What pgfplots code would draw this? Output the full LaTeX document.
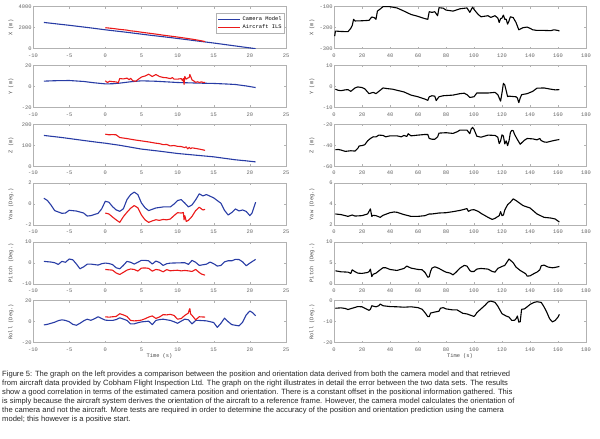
\documentclass[border=0pt]{standalone}
\usepackage{fontspec}
\setmainfont{Liberation Sans}
\setmonofont{Liberation Mono}
\usepackage{pgfplots}
\pgfplotsset{compat=1.18}
\definecolor{mblue}{RGB}{40,60,165}
\definecolor{mred}{RGB}{235,25,25}
\newcommand{\tkf}{\ttfamily\fontsize{5.4}{6}\selectfont}
\pgfplotsset{
  mat/.style={scale only axis, height=42pt,
    axis line style={gray!60}, tick style={gray!60, line width=0.4pt},
    major tick length=2pt, tick align=inside,
    every tick label/.append style={font=\tkf, text=black!60},
    xticklabel style={yshift=-1.5pt},
    yticklabel style={inner sep=1.2pt},
    /pgf/number format/assume math mode=true,
    /pgf/number format/1000 sep={},
    scaled ticks=false,
    every axis y label/.style={at={(axis description cs:-0.087,0.5)}, rotate=90, anchor=center, font=\tkf, text=black!70},
    every axis x label/.style={at={(axis description cs:0.5,-0.33)}, anchor=center, font=\tkf, text=black!70},
    clip=true},
  L/.style={mat, width=253pt, xmin=-10, xmax=25, xtick={-10,-5,...,25}},
  R/.style={mat, width=252pt, xmin=0, xmax=180, xtick={0,20,...,180}},
  bl/.style={color=mblue, line width=1.1pt, line join=round},
  rd/.style={color=mred, line width=1.1pt, line join=round},
  bk/.style={color=black, line width=1.1pt, line join=round},
}
\begin{document}
\begin{tikzpicture}
\useasboundingbox (0,0) rectangle (600pt,439pt);
% ---------------- LEFT COLUMN ----------------
\begin{axis}[L, at={(33pt,432.3pt)}, anchor=north west, ymin=0, ymax=4000, ytick={0,2000,4000}, ylabel={X (m)},
  legend style={at={(axis description cs:1,1)}, anchor=north east, xshift=-1.3pt, yshift=-6.6pt, draw=gray!60, font=\tkf, inner sep=1pt, row sep=-1.5pt, cells={anchor=west}},
  legend image code/.code={\draw[#1] (0pt,0pt) -- (22pt,0pt);}]
\addplot[bl] coordinates {(-8.5,2500) (-5,2230) (-2,1980) (0,1800) (3,1560) (6,1300) (9,1060) (12,800) (15,540) (18,260) (20.8,0)};
\addlegendentry{Camera Model}
\addplot[rd] coordinates {(0,2000) (1,1930) (2,1840) (3,1770) (3.5,1700) (4,1670) (5,1570) (6,1480) (7,1390) (8,1290) (9,1200) (10,1110) (11,1010) (12,910) (13,790) (13.8,680)};
\addlegendentry{Aircraft ILS}
\end{axis}

\begin{axis}[L, at={(33pt,373.5pt)}, anchor=north west, ymin=-20, ymax=20, ytick={-20,0,20}, ylabel={Y (m)}]
\addplot[bl] coordinates {(-8.5,5.1) (-7,5.5) (-5,5.7) (-3,4.8) (-1.5,3.5) (0,2.5) (1,2.6) (2,3.2) (3.5,4.5) (5,5.4) (7,5) (10,3.8) (13,3.2) (15,2.9) (17,2.3) (18,1.9) (19.5,0.5) (20.8,-1)};
\addplot[rd] coordinates {(0,5.4) (0.3,3.8) (0.6,5) (1,4.6) (1.5,4.4) (1.8,3.5) (2,7.6) (2.5,7.2) (3,8) (3.3,6.5) (3.5,7.8) (3.8,5.5) (4.2,5) (4.5,6.5) (5,9) (5.5,10) (6,11.7) (6.5,9.5) (7,11.4) (7.5,9.5) (8,8.6) (8.5,8.3) (9,7.5) (9.3,8.5) (9.5,7) (10,7) (10.5,7.5) (10.7,5.5) (10.8,7.8) (10.9,2) (11,9.5) (11.2,7) (11.4,8) (11.6,8.5) (11.7,11.4) (11.9,8) (12,6.3) (12.3,5) (12.5,4) (12.8,4.5) (13,3.8) (13.3,4.4) (13.5,4) (13.8,3.9)};
\end{axis}

\begin{axis}[L, at={(33pt,314.7pt)}, anchor=north west, ymin=0, ymax=200, ytick={0,100,200}, ylabel={Z (m)}]
\addplot[bl] coordinates {(-8.5,147) (-6,137) (-3,123) (-1,114) (0,110) (2,100) (5,82) (7.5,72) (10,61) (12.5,53) (15,45) (16.5,38) (18,31) (19.5,26) (20.8,21)};
\addplot[rd] coordinates {(0,153) (0.5,150) (1,151) (1.5,150) (2,137) (3,132) (4,126) (5,121) (6,116) (6.5,113) (7,110) (7.5,108) (8,103) (8.5,104) (9,97) (9.5,99) (10,95) (10.5,94) (11,89) (11.2,93) (11.4,83) (11.6,90) (11.8,84) (12,88) (12.5,85) (13,82) (13.8,76)};
\end{axis}

\begin{axis}[L, at={(33pt,255.9pt)}, anchor=north west, ymin=-2, ymax=2, ytick={-2,0,2}, ylabel={Yaw (Deg.)}]
\addplot[bl] coordinates {(-8.5,0.56) (-8,0.34) (-7.5,-0.1) (-7,-0.62) (-6,-0.88) (-5.5,-0.85) (-5,-0.59) (-4,-0.66) (-3,-0.85) (-2.5,-1.14) (-2,-1.1) (-1,-0.88) (-0.5,-0.46) (0,0.27) (0.5,0.18) (1,-0.24) (1.5,-0.55) (2,-0.69) (2.5,-0.45) (3,0.43) (3.5,0.9) (4,1.14) (4.5,0.91) (5,0.11) (5.5,-0.35) (6,-0.62) (7,-0.37) (8,-0.27) (9,-0.27) (9.5,0) (10,0.34) (10.5,0.43) (11,0.1) (11.5,-0.27) (12,-0.08) (12.5,0.4) (13,0.98) (13.5,0.78) (14,0.91) (15,0.59) (16,0.08) (16.5,-0.6) (17,-1.04) (17.5,-0.8) (18,-0.46) (18.5,-0.65) (19,-0.56) (19.5,-0.7) (20,-1.1) (20.3,-0.85) (20.8,0.18)};
\addplot[rd] coordinates {(0,-0.85) (0.5,-0.94) (1,-1.23) (1.5,-1.5) (2,-1.74) (2.5,-1.2) (3,-0.78) (3.5,-0.4) (4,-0.14) (4.5,-0.35) (5,-1.04) (5.5,-1.5) (6,-1.74) (6.5,-1.6) (7,-1.49) (7.5,-1.55) (8,-1.46) (8.5,-1.5) (9,-1.42) (9.5,-1.1) (10,-0.82) (10.5,-0.85) (10.8,-0.8) (10.9,-1.5) (11,-1.1) (11.2,-1.65) (11.5,-1.55) (12,-1.17) (12.5,-0.62) (13,-0.3) (13.5,-0.56) (13.8,-0.5)};
\end{axis}

\begin{axis}[L, at={(33pt,197.1pt)}, anchor=north west, ymin=-10, ymax=10, ytick={-10,0,10}, ylabel={Pitch (Deg.)}]
\addplot[bl] coordinates {(-8.5,0.72) (-7.5,0.4) (-7,0.08) (-6.5,-0.72) (-6,0.72) (-5.5,0.3) (-5,1.84) (-4.5,1.5) (-4,-0.5) (-3.5,-2.8) (-3,-1.9) (-2.5,-0.6) (-2,-0.56) (-1.5,-0.8) (-1,-1.04) (-0.5,-0.4) (0,-0.08) (0.5,-0.3) (1,-0.8) (1.5,-2.32) (2,-2.8) (2.5,-1.2) (3,0.72) (3.5,0.3) (4,-0.56) (4.5,0.3) (5,1.2) (5.5,1.2) (6,1.0) (6.5,-0.56) (7,0.88) (7.5,0.2) (8,-1.2) (8.5,-0.4) (9,-0.1) (10,0) (11,0.1) (11.5,-0.72) (12,1.2) (12.5,0.3) (13,-1.2) (13.5,-0.9) (14,-0.6) (14.5,0.4) (15,-0.4) (15.5,-1.52) (16,-1.2) (16.5,0.5) (17,1.04) (17.5,1.0) (18,1.68) (18.5,1.6) (19,0.5) (19.5,-1.36) (20,-0.1) (20.8,1.68)};
\addplot[rd] coordinates {(0,-3.12) (0.5,-3.3) (1,-3.44) (1.5,-4.8) (2,-5.52) (2.5,-4.5) (3,-3.44) (3.5,-2.9) (4,-3.12) (4.5,-3.9) (5,-2.48) (5.5,-2.4) (6,-2.6) (6.5,-3.92) (7,-3.12) (7.5,-3.4) (8,-4.24) (8.5,-3.2) (9,-3.76) (9.5,-3.6) (10,-3.5) (10.5,-3.8) (11,-3.6) (11.5,-3.8) (12,-4.08) (12.5,-3.12) (13,-4.56) (13.3,-5.3) (13.8,-5.84)};
\end{axis}

\begin{axis}[L, at={(33pt,138.3pt)}, anchor=north west, ymin=-20, ymax=20, ytick={-20,0,20}, ylabel={Roll (Deg.)}, xlabel={Time (s)}]
\addplot[bl] coordinates {(-8.5,-3.1) (-8,-2.5) (-7,-0.5) (-6.5,1.0) (-6,1.8) (-5.5,1.2) (-5,0) (-4.5,-2.5) (-4,-3.4) (-3.5,-1.5) (-3,0.8) (-2.5,2.4) (-2,1.3) (-1.5,2.8) (-1,4.7) (-0.5,3.0) (0,1.5) (0.5,1.2) (1,1.2) (1.5,2.0) (2,3.7) (2.5,2.5) (3,1.2) (3.5,-2.1) (4,-2.1) (4.5,-1.0) (5,-0.2) (6,0.5) (6.5,-2.8) (7,1.2) (7.5,2.0) (8,2.4) (9,1.2) (9.5,0) (10,-1.5) (10.5,0.5) (11,2.4) (11.5,1.8) (12,-2.1) (12.5,1.2) (13,1.2) (14,0.8) (15,-0.8) (15.5,-5.4) (16,-1.5) (16.5,3.4) (17,0) (17.5,-2.8) (18,-3.4) (18.5,-4.0) (19,-0.5) (19.5,6.5) (20,10.2) (20.4,8.5) (20.8,5.7)};
\addplot[rd] coordinates {(0,4.7) (0.5,4.3) (1,4.7) (1.5,5.0) (2,7.6) (2.5,6.5) (3,5.0) (3.5,1.2) (4,0.8) (4.5,1.0) (5,1.5) (5.5,2.8) (6,4.4) (6.5,5.5) (7,3.1) (7.5,4.5) (8,6.7) (8.5,6.5) (9,7.0) (9.5,6.0) (10,2.4) (10.5,3.0) (11,6.0) (11.5,8.3) (11.6,11) (11.7,12.5) (11.8,7.5) (12,6.0) (12.5,1.8) (13,4.7) (13.5,4.5) (13.8,4.4)};
\end{axis}

% ---------------- RIGHT COLUMN ----------------
\begin{axis}[R, at={(334pt,432.3pt)}, anchor=north west, ymin=-300, ymax=-100, ytick={-300,-200,-100}, ylabel={X (m)}]
\addplot[bk] coordinates {(0.5,-240) (1,-216) (5,-218) (10,-219) (12,-203) (13,-190) (14,-160) (15,-168) (20,-167) (25,-165) (27,-149) (29,-153) (30,-160) (31,-121) (33,-111) (35,-100) (40,-100) (45,-106) (50,-121) (55,-137) (60,-146) (65,-157) (67,-160) (68,-124) (70,-127) (72,-124) (74,-143) (75,-105) (78,-107) (80,-116) (85,-121) (90,-110) (95,-106) (97,-127) (99,-102) (100,-113) (103,-137) (105,-148) (110,-143) (112,-151) (115,-143) (117,-154) (118,-175) (119,-157) (120,-154) (121,-140) (122,-160) (123,-160) (124,-183) (125,-168) (126,-148) (128,-152) (130,-175) (132,-210) (135,-200) (138,-197) (140,-203) (142,-210) (145,-213) (150,-213) (155,-214) (157,-210) (160,-213) (161,-216)};
\end{axis}

\begin{axis}[R, at={(334pt,373.5pt)}, anchor=north west, ymin=-10, ymax=10, ytick={-10,0,10}, ylabel={Y (m)}]
\addplot[bk] coordinates {(1,-1.3) (3,-1.8) (5,-2) (8,-1.6) (10,-1.5) (12,-2.3) (15,-0.7) (17,-0.2) (20,-0.5) (22,-1.1) (25,-3.4) (28,-2.8) (30,-3.4) (33,-1.8) (35,-0.7) (38,-1.0) (42,-1.3) (45,-1.8) (50,-2.6) (55,-4.1) (60,-4.9) (65,-6) (67,-6.6) (68,-4.9) (70,-4.4) (72,-4.6) (73,-6.7) (75,-4.9) (78,-4.4) (85,-4.1) (90,-3.4) (93,-3.2) (95,-3.9) (97,-5.2) (100,-4.9) (102,-3.1) (110,-3.1) (115,-2.8) (117,-3.9) (119,-7) (120,-3) (121,1.5) (122,0.7) (123,-2) (124,-4.8) (125,-4.6) (130,-4.9) (131,-5.5) (132,-7.7) (133,-5.5) (134,-3.9) (138,-3.4) (142,-2.3) (145,-0.8) (150,-0.7) (155,-1.3) (158,-1.6) (161,-1.5)};
\end{axis}

\begin{axis}[R, at={(334pt,314.7pt)}, anchor=north west, ymin=-60, ymax=-20, ytick={-60,-40,-20}, ylabel={Z (m)}]
\addplot[bk] coordinates {(1,-44.2) (3,-44) (5,-44.5) (8,-45.8) (12,-45.2) (15,-45.5) (17,-42.9) (18,-40.6) (20,-40.3) (22,-39.4) (24,-35.8) (26,-33.5) (28,-31.9) (30,-32) (32,-30.3) (35,-30.6) (37,-31.9) (40,-31) (45,-31) (48,-31.9) (50,-30.6) (52,-31.6) (53,-29) (55,-31) (60,-30.3) (65,-29.7) (67,-29.7) (68,-33.5) (70,-34.2) (72,-34.2) (74,-32) (75,-28.4) (80,-28) (85,-28.7) (88,-27.1) (90,-25.5) (95,-25.5) (97,-29) (98,-24.5) (99,-22.9) (100,-24.8) (102,-31.3) (105,-32.3) (110,-30.3) (115,-30.6) (117,-32.3) (118,-38.4) (119,-35.8) (120,-30) (121,-31.3) (122,-38.7) (123,-35.8) (124,-40.3) (125,-35.8) (126,-27.8) (127,-25.8) (128,-26.1) (129,-29.7) (131,-34.5) (133,-39) (134,-37.7) (136,-35.2) (138,-33.5) (142,-33.9) (145,-34.8) (147,-33.5) (148,-35.5) (150,-36.8) (152,-37.1) (155,-36.1) (158,-35.2) (161,-34.5)};
\end{axis}

\begin{axis}[R, at={(334pt,255.9pt)}, anchor=north west, ymin=2, ymax=6, ytick={2,4,6}, ylabel={Yaw (Deg.)}]
\addplot[bk] coordinates {(1,3.06) (5,3.0) (8,2.9) (10,2.83) (13,2.96) (15,2.86) (20,2.9) (24,3.06) (26,3.54) (27,2.83) (28,2.93) (30,2.9) (33,2.74) (35,2.93) (40,3.18) (43,3.25) (45,3.22) (50,3.0) (55,2.83) (60,2.83) (65,2.9) (68,3.06) (70,3.06) (75,3.15) (80,3.18) (85,3.28) (90,3.4) (95,3.57) (96,3.31) (98,3.44) (100,3.47) (103,3.31) (105,3.12) (110,2.74) (113,2.54) (115,2.64) (118,2.9) (119,3.28) (120,2.9) (121,2.96) (122,3.44) (124,3.95) (126,4.18) (128,4.5) (130,4.34) (135,3.86) (140,3.63) (145,3.06) (150,2.74) (155,2.67) (158,2.58) (161,2.29)};
\end{axis}

\begin{axis}[R, at={(334pt,197.1pt)}, anchor=north west, ymin=0, ymax=10, ytick={0,5,10}, ylabel={Pitch (Deg.)}]
\addplot[bk] coordinates {(1,3.12) (5,2.88) (10,2.8) (12,2.48) (13,3.36) (15,2.9) (17,2.56) (20,2.5) (24,2.72) (25,2.9) (26,3.52) (27,1.76) (28,2.3) (30,2.56) (33,3.36) (35,3.84) (37,3.84) (40,3.44) (45,3.2) (50,3.68) (52,4.24) (55,3.76) (60,3.44) (63,3.36) (65,2.72) (67,1.6) (68,1.68) (69,3.0) (70,3.76) (72,4.08) (75,3.68) (78,3.12) (80,2.8) (83,2.56) (85,2.16) (87,2.72) (90,3.76) (93,4.4) (95,4.24) (97,3.2) (98,2.96) (100,2.96) (102,3.52) (105,3.68) (110,3.52) (113,2.96) (115,2.8) (117,3.68) (120,4.16) (122,4.4) (125,5.92) (128,5.04) (130,4.0) (133,3.2) (135,2.8) (137,2.4) (138,1.84) (140,1.92) (143,2.48) (145,2.8) (147,3.36) (148,4.32) (150,4.48) (153,4.0) (156,3.84) (158,3.92) (161,4.16)};
\end{axis}

\begin{axis}[R, at={(334pt,138.3pt)}, anchor=north west, ymin=-20, ymax=0, ytick={-20,-10,0}, ylabel={Roll (Deg.)}, xlabel={Time (s)}]
\addplot[bk] coordinates {(1,-3.6) (5,-3.4) (8,-3.7) (10,-4.2) (13,-3.6) (17,-2.8) (20,-2.9) (22,-3.6) (25,-4.6) (26,-4.1) (27,-2.4) (28,-2.6) (30,-2.9) (32,-2.4) (33,-1.6) (35,-2.4) (40,-2.8) (45,-2.9) (50,-3.1) (55,-2.9) (60,-3.3) (63,-4.1) (65,-5.7) (67,-7.6) (68,-7.6) (69,-5.9) (72,-5.4) (75,-5.0) (76,-3.6) (78,-3.3) (80,-3.9) (85,-4.4) (88,-4.4) (90,-5.2) (92,-6.0) (95,-6.3) (97,-6.8) (100,-7.5) (101,-6.8) (102,-5.7) (105,-3.9) (108,-2.1) (110,-0.65) (112,-0.16) (115,-0.8) (117,-2.6) (120,-6.2) (123,-7.3) (125,-7.8) (127,-9.4) (129,-9.3) (130,-8.6) (131,-7.3) (132,-10.2) (133,-10) (134,-4.1) (136,-3.9) (138,-2.9) (140,-1.8) (143,-0.8) (145,-0.5) (148,-0.8) (150,-2.9) (152,-5.5) (154,-8.6) (156,-10.1) (158,-9.4) (160,-7.8) (161,-6.5)};
\end{axis}

% ---------------- CAPTION ----------------
\node[anchor=north west, inner sep=0pt, align=left, font=\fontsize{7.6}{9}\selectfont, text=black!85] at (2pt,68pt) {%
Figure 5: The graph on the left provides a comparison between the position and orientation data derived from both the camera model and that retrieved\\
from aircraft data provided by Cobham Flight Inspection Ltd. The graph on the right illustrates in detail the error between the two data sets. The results\\
show a good correlation in terms of the estimated camera position and orientation. There is a constant offset in the positional information gathered. This\\
is simply because the aircraft system derives the orientation of the aircraft to a reference frame. However, the camera model calculates the orientation of\\
the camera and not the aircraft. More tests are required in order to determine the accuracy of the position and orientation prediction using the camera\\
model; this however is a positive start.};
\end{tikzpicture}
\end{document}
